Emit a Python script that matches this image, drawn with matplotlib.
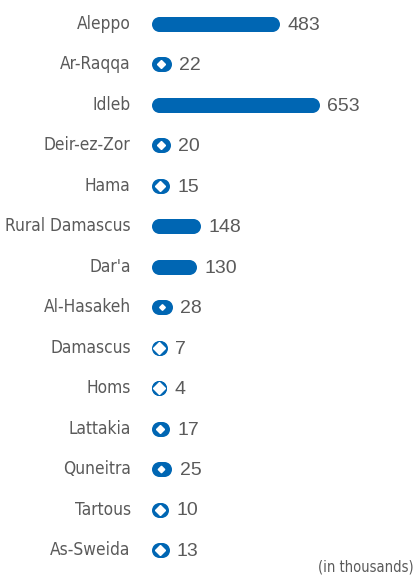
import matplotlib as mpl
mpl.use('Agg')
import numpy as np
import matplotlib.pyplot as plt
from matplotlib import font_manager
from matplotlib.font_manager import FontProperties

governorates = ['Aleppo', 'Ar-Raqqa', 'Idleb', 'Deir-ez-Zor', 'Hama', 'Rural Damascus', "Dar'a",
                'Al-Hasakeh', 'Damascus', 'Homs', 'Lattakia', 'Quneitra', 'Tartous', 'As-Sweida']
idps = [483, 22, 653, 20, 15, 148, 130, 28, 7, 4, 17, 25, 10, 13]

blue = '#0066b3'
grey = '#5a5a5a'

# look for a condensed / narrow regular face on the system
narrow_file = None
for f in font_manager.fontManager.ttflist:
    fn = f.fname.lower()
    if ('narrow' in fn or 'condensed' in fn) and 'bold' not in fn and 'oblique' not in fn \
            and 'italic' not in fn and f.name in ('Liberation Sans Narrow', 'DejaVu Sans', 'Roboto', 'Open Sans', 'Noto Sans'):
        narrow_file = f.fname
        if 'liberation' in fn:
            break

def nfont(size):
    if narrow_file is not None:
        return FontProperties(fname=narrow_file, size=size)
    return FontProperties(family='DejaVu Sans', size=size*0.85)

fig = plt.figure(figsize=(4.17, 5.75), dpi=100)
W, H = 417., 575.
# value 0 sits at x=158.5px, 0.235 px per thousand
x0 = 158.5
ax = fig.add_axes([x0/W, 1-570.25/H, (W-x0)/W, (570.25-3.75)/H])
ax.set_xlim(0, (W-x0)/0.235)
ax.set_ylim(len(idps)-0.5, -0.5)

y = np.arange(len(idps))
for i, v in enumerate(idps):
    # capsule = thick line + round markers on both ends
    ax.plot([0, v], [y[i], y[i]], color=blue, lw=10.8, solid_capstyle='butt',
            marker='o', ms=10.8, mew=0, zorder=2, clip_on=False)
    # the small ones show a white hole in the middle
    if v < 40:
        ms = max(2.5, 6.8 - 0.14*v)
        ax.plot([v/2.], [y[i]], marker='D', ms=ms, color='white', mec='white', zorder=3, clip_on=False)
    ax.annotate(str(v), (v, y[i]), xytext=(11, -1), textcoords='offset points',
                ha='left', va='center', fontsize=14, color=grey, family='Liberation Sans')

ax.set_yticks(y)
ax.set_yticklabels(governorates, color=grey)
for lab in ax.get_yticklabels():
    lab.set_fontproperties(nfont(12.4))
    lab.set_va('center')
ax.tick_params(axis='y', length=0, pad=20)
ax.set_xticks([])
for s in ax.spines.values():
    s.set_visible(False)
ax.patch.set_alpha(0)

fig.text(414/W, 1-567/H, '(in thousands)', ha='right', va='center',
         color=grey, fontproperties=nfont(10.5))

plt.savefig('out.png', dpi=100)
plt.close()
